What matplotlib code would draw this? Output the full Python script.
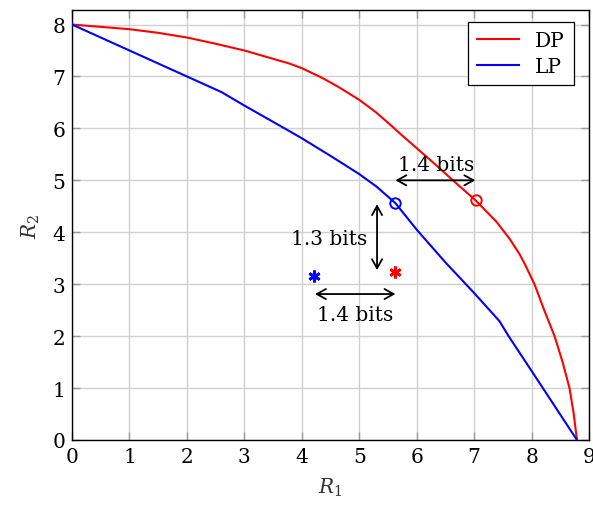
import matplotlib
matplotlib.use("Agg")
import matplotlib.pyplot as plt

plt.rcParams["font.family"] = ["DejaVu Serif"]
plt.rcParams["mathtext.fontset"] = "dejavuserif"
plt.rcParams["font.size"] = 14.5

# rate region boundaries
dp_r1 = [0, 1, 1.5, 2, 2.5, 3, 3.78, 4, 4.36, 4.65, 5, 5.28, 5.51, 5.74, 6.0, 6.35, 6.64,
         7.02, 7.39, 7.62, 7.79, 7.89, 8.05, 8.22, 8.4, 8.54, 8.66, 8.73, 8.79]
dp_r2 = [8, 7.91, 7.84, 7.75, 7.63, 7.5, 7.25, 7.16, 6.97, 6.79, 6.55, 6.32, 6.1, 5.87, 5.62, 5.28, 4.99,
         4.62, 4.2, 3.87, 3.58, 3.37, 3.0, 2.5, 2.0, 1.5, 1.0, 0.53, 0]
lp_r1 = [0, 1, 2, 2.6, 3, 3.78, 4, 4.53, 5, 5.3, 5.63, 6.0, 6.5, 7.0, 7.44, 7.6, 8, 8.79]
lp_r2 = [8, 7.5, 7.0, 6.7, 6.44, 5.95, 5.81, 5.45, 5.12, 4.88, 4.56, 4.05, 3.42, 2.83, 2.29, 2.0, 1.33, 0]

# operating points
dp_pt = (7.03, 4.62)
lp_pt = (5.63, 4.56)
star_blue = (4.22, 3.16)
star_red = (5.63, 3.24)

fig = plt.figure(figsize=(5.93, 5.06), dpi=100)
ax = fig.add_axes([0.1214, 0.1285, 0.8719, 0.8498])

ax.plot(dp_r1, dp_r2, color="red", lw=1.5, label="DP", zorder=3)
ax.plot(lp_r1, lp_r2, color="blue", lw=1.5, label="LP", zorder=3)

ax.plot(*dp_pt, "o", mfc="none", mec="red", ms=7.5, mew=1.4, zorder=4)
ax.plot(*lp_pt, "o", mfc="none", mec="blue", ms=7.5, mew=1.4, zorder=4)
ax.plot(*star_blue, marker=(6, 2, 0), color="blue", ms=8.5, mew=2, zorder=4)
ax.plot(*star_red, marker=(6, 2, 0), color="red", ms=8.5, mew=2, zorder=4)

arrow = dict(arrowstyle="<->,head_length=0.45,head_width=0.25", color="black", lw=1.3,
             shrinkA=0, shrinkB=0)
ax.annotate("", xy=(7.02, 5.0), xytext=(5.63, 5.0), arrowprops=arrow)
ax.text(6.33, 5.31, "1.4 bits", ha="center", va="center")
ax.annotate("", xy=(5.31, 4.54), xytext=(5.31, 3.27), arrowprops=arrow)
ax.text(5.14, 3.88, "1.3 bits", ha="right", va="center")
ax.annotate("", xy=(4.23, 2.81), xytext=(5.63, 2.81), arrowprops=arrow)
ax.text(4.93, 2.42, "1.4 bits", ha="center", va="center")

ax.set_xlim(0, 9)
ax.set_ylim(0, 8.28)
ax.set_xticks(range(0, 10))
ax.set_yticks(range(0, 9))
ax.grid(True, color="#d0d0d0", lw=1)
ax.set_axisbelow(True)
ax.tick_params(direction="in", length=6, width=1, color="#999999",
               top=True, right=True, pad=5)
for s in ax.spines.values():
    s.set_color("black")
    s.set_linewidth(1)

ax.set_xlabel("$R_1$", color="#333333", labelpad=7)
ax.set_ylabel("$R_2$", color="#333333", labelpad=7)

leg = ax.legend(loc="upper right", bbox_to_anchor=(0.971, 0.972), fancybox=False,
                framealpha=1, edgecolor="black", handlelength=2.1, borderpad=0.45,
                borderaxespad=0, labelspacing=0.35)
leg.get_frame().set_linewidth(0.9)

fig.savefig("out.png", dpi=100)
